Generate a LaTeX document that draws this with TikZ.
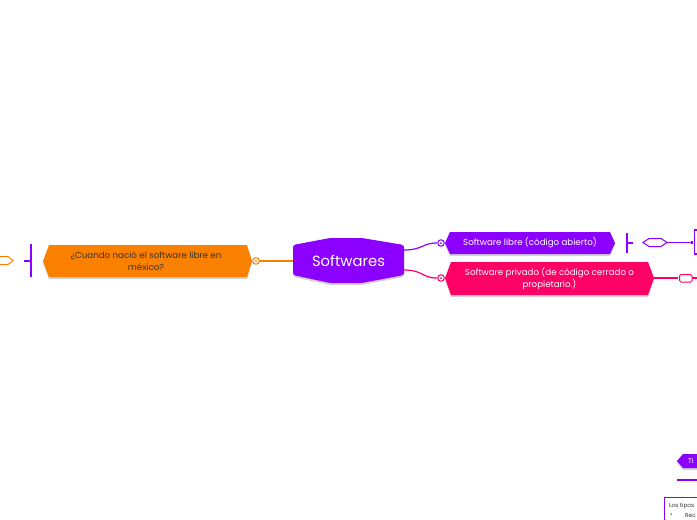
\documentclass[tikz,border=0pt]{standalone}
\usepackage{fontspec}
\setmainfont{Poppins}
\usetikzlibrary{shadows}
\definecolor{purp}{RGB}{140,0,255}
\definecolor{orng}{RGB}{250,128,0}
\definecolor{pinkc}{RGB}{255,0,102}
\definecolor{dtext}{RGB}{51,51,51}
\tikzset{
  shad/.style={drop shadow={shadow xshift=0pt,shadow yshift=-2pt,opacity=.18,fill=black}},
  lbl/.style={inner sep=0pt,align=center,font=\fontsize{8.7}{11.8}\selectfont},
  ring/.style={circle,draw=#1,fill=white,line width=1pt,minimum size=6.5pt,inner sep=0pt},
  conn/.style={draw=#1,line width=1.2pt},
  sq/.style={fill=#1,minimum size=2.6pt,inner sep=0pt},
  thin line/.style={draw=#1,line width=1.1pt},
}
\begin{document}
\begin{tikzpicture}[x=1pt,y=-1pt]
\useasboundingbox (0,0) rectangle (697,520);
\fill[white] (0,0) rectangle (697,520);
\clip (0,0) rectangle (697,520);
% central node
\fill[purp,shad,rounded corners=2.5pt] (293,245) -- (330,238) -- (362,238) -- (404,245) -- (404,275) -- (362,283) -- (330,283) -- (293,275) -- cycle;
\node[text=white,inner sep=0pt,font=\fontsize{14.8}{16}\selectfont] (sw) at (348.5,260.5) {Softwares};
\coordinate (swl) at (293,261);
\coordinate (swr1) at (404,250);
\coordinate (swr2) at (404,270);
% orange node
\fill[orng,shad] (43,261) -- (49,245) -- (247,245) -- (252,261) -- (247,277) -- (49,277) -- cycle;
\node[lbl,text=dtext] (q) at (146,261) {¿Cuando nació el software libre en\\méxico?};
% purple node
\fill[purp,shad] (445,243) -- (450,232) -- (610,232) -- (615,243) -- (610,254) -- (450,254) -- cycle;
\node[lbl,text=white] (sl) at (530,243) {Software libre (código abierto)};
% pink node
\fill[pinkc,shad] (445,278) -- (451,262) -- (648,262) -- (654,278) -- (648,295) -- (451,295) -- cycle;
\node[lbl,text=white] (sp) at (549.5,278.5) {Software privado (de código cerrado o\\propietario.)};
\coordinate (spr) at (654,278);
% connectors from centre
\draw[conn=orng] (swl) -- (256,261);
\node[ring=orng] (r1) at (256,261) {};
\fill[orng] (r1) circle (1pt);
\draw[conn=purp] (swr1) .. controls (423,250) and (422,243) .. (437,243);
\node[ring=purp] (r2) at (441,243) {};
\fill[purp] (r2) circle (1pt);
\draw[conn=pinkc] (swr2) .. controls (423,270) and (422,278) .. (437,278);
\node[ring=pinkc] (r3) at (441,278) {};
\fill[pinkc] (r3) circle (1pt);
% left of orange node
\coordinate (lb1) at (31,244);
\coordinate (lb2) at (31,277);
\coordinate (lbt) at (31,261);
\coordinate (lbe) at (24,261);
\path[thin line=purp] (lb1) -- (lb2);
\path[thin line=purp] (lbt) -- (lbe);
\draw[orng,line width=1pt,fill=white] (-5,260.5) -- (0,256.5) -- (8,256.5) -- (13,260.5) -- (8,264.5) -- (0,264.5) -- cycle;
% right of purple node
\coordinate (rb1) at (627,233);
\coordinate (rb2) at (627,253);
\coordinate (rbt) at (627,243);
\coordinate (rbe) at (633,243);
\path[thin line=purp] (rb1) -- (rb2);
\path[thin line=purp] (rbt) -- (rbe);
\draw[purp,line width=1pt,fill=white] (643,242.5) -- (649,238.5) -- (661,238.5) -- (667,242.5) -- (661,246.5) -- (649,246.5) -- cycle;
\coordinate (le) at (667,242.5);
\node[sq=purp] (d1) at (692,242.5) {};
\path[thin line=purp] (le) -- (d1);
\draw[purp,line width=1.2pt] (694.5,230) rectangle (720,254);
% right of pink node
\node[sq=pinkc] (d2) at (677,278) {};
\path[thin line=pinkc] (spr) -- (d2);
\draw[pinkc,line width=1pt,fill=white,rounded corners=1.5pt] (679.5,274.5) rectangle (692,282);
\path[thin line=pinkc] (692,278) -- (700,278);
% bottom right
\fill[purp,shad] (677,461) -- (683,454) -- (710,454) -- (710,468) -- (683,468) -- cycle;
\node[anchor=west,inner sep=0pt,text=white,font=\fontsize{7}{8}\selectfont] (ti) at (688,461) {Ti};
\draw[purp,line width=1.2pt] (677,480) -- (700,480);
\draw[purp,line width=1pt,fill=white] (664.5,497.5) rectangle (720,530);
\node[anchor=west,inner sep=0pt,text=dtext,font=\fontsize{5.8}{7}\selectfont] (lt) at (669,506.5) {Los tipos};
\node[anchor=west,inner sep=0pt,text=dtext,font=\fontsize{5.8}{7}\selectfont] (bu) at (670,515) {•};
\node[anchor=west,inner sep=0pt,text=dtext,font=\fontsize{5.8}{7}\selectfont] (rc) at (685,515) {Rec};
\end{tikzpicture}
\end{document}
